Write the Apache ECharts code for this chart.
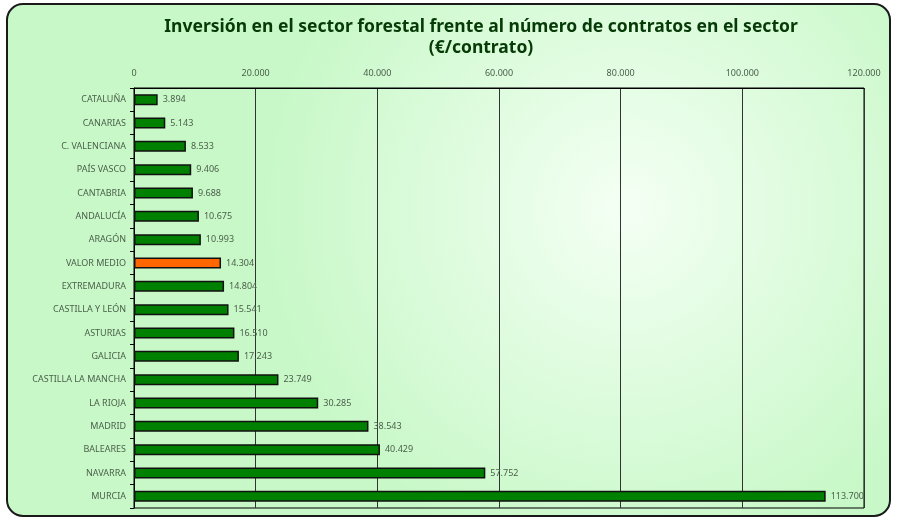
<!DOCTYPE html>
<html><head><meta charset="utf-8">
<script src="https://cdn.jsdelivr.net/npm/echarts@6/dist/echarts.min.js"></script>
<style>html,body{margin:0;padding:0;background:#fff}#c{width:897px;height:520px}</style>
</head><body><div id="c"></div>
<script>
const categories = ["CATALUÑA","CANARIAS","C. VALENCIANA","PAÍS VASCO","CANTABRIA","ANDALUCÍA","ARAGÓN","VALOR MEDIO","EXTREMADURA","CASTILLA Y LEÓN","ASTURIAS","GALICIA","CASTILLA LA MANCHA","LA RIOJA","MADRID","BALEARES","NAVARRA","MURCIA"];
const values = [3894,5143,8533,9406,9688,10675,10993,14304,14804,15541,16510,17243,23749,30285,38543,40429,57752,113700];
const highlight = "VALOR MEDIO";
const xMin = 0, xMax = 120000, xInterval = 20000;

function fmt(v){return String(Math.round(v)).replace(/\B(?=(\d{3})+(?!\d))/g,'.');}
const chart = echarts.init(document.getElementById('c'), null, {renderer:'canvas'});
const font = '"Noto Sans", "DejaVu Sans", sans-serif';
chart.setOption({
  animation:false,
  graphic:[{type:'rect',z:-10,silent:true,shape:{x:7,y:4,width:883,height:512,r:16},
    style:{stroke:'#1a1a1a',lineWidth:2,fill:{type:'radial',x:0.7,y:0.4,r:0.7,colorStops:[{offset:0,color:'#f4fff4'},{offset:1,color:'#c8f8c8'}]}}}],
  title:{text:'Inversión en el sector forestal frente al número de contratos en el sector\n(€/contrato)',left:476,top:12,textAlign:'center',
    textStyle:{fontFamily:font,fontSize:17.5,fontWeight:'bold',color:'#063a06',lineHeight:21}},
  grid:{left:134,right:33,top:88,bottom:12,show:true,borderColor:'#000',borderWidth:1,backgroundColor:'transparent'},
  xAxis:{type:'value',position:'top',min:xMin,max:xMax,interval:xInterval,
    axisLine:{show:true,lineStyle:{color:'#000'}},axisTick:{show:false},
    splitLine:{show:true,lineStyle:{color:'#333',width:1}},
    axisLabel:{fontFamily:font,fontSize:9,color:'#4a5f4a',margin:10,formatter:v=>fmt(v)}},
  yAxis:{type:'category',data:categories,inverse:true,
    axisLine:{show:true,lineStyle:{color:'#000'}},axisTick:{show:true,length:4,lineStyle:{color:'#000'}},
    axisLabel:{fontFamily:font,fontSize:9,color:'#4a5f4a',margin:8}},
  series:[{type:'bar',barWidth:11,
    data:values.map((v,i)=>({value:v,itemStyle:{color:categories[i]===highlight?'#ff6600':'#008000'}})),
    itemStyle:{borderColor:'#111',borderWidth:1.5},
    label:{show:true,position:'right',distance:5,fontFamily:font,fontSize:9,color:'#4a5f4a',formatter:p=>fmt(p.value)}}]
});
</script></body></html>
